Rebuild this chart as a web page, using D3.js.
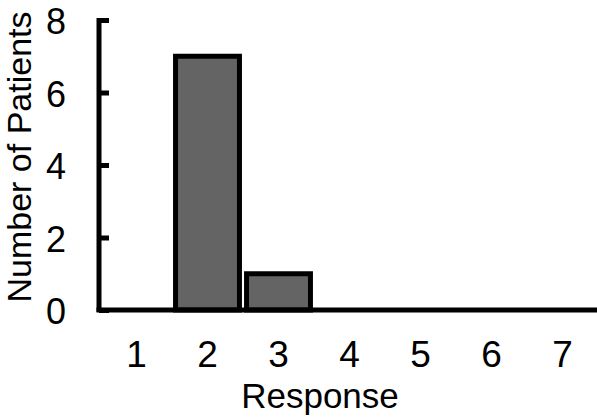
<!DOCTYPE html>
<html>
<head>
<meta charset="utf-8">
<script src="https://cdn.jsdelivr.net/npm/d3@7"></script>
<style>
  body { margin: 0; background: #fff; }
  text { font-family: "Liberation Sans", Arial, sans-serif; fill: #000; }
</style>
</head>
<body>
<div id="chart"></div>
<script>
// responses on the 1-7 scale and how many patients picked each
var responses = ["1", "2", "3", "4", "5", "6", "7"];
var patients = [0, 7, 1, 0, 0, 0, 0];
var yTicks = [0, 2, 4, 6, 8];

var W = 597, H = 418;

var svg = d3.select('#chart')
	.append('svg')
		.attr('width', W)
		.attr('height', H);

var x = d3.scaleBand()
	.domain(responses)
	.range([101, 598])
	.paddingInner(0.1)
	.paddingOuter(0.05);

var y = d3.scaleLinear()
	.domain([0, 8])
	.range([310, 20]);

// bars
svg.selectAll('rect.bar')
	.data(responses.map((r, i) => ({ r: r, n: patients[i] })).filter(d => d.n > 0))
	.enter().append('rect')
		.attr('class', 'bar')
		.attr('x', d => x(d.r))
		.attr('y', d => y(d.n))
		.attr('width', x.bandwidth())
		.attr('height', d => y(0) - y(d.n))
		.attr('fill', '#646464')
		.attr('stroke', '#000')
		.attr('stroke-width', 5);

// y axis, ticks pointing inward
var yAxis = d3.axisLeft(y)
	.tickValues(yTicks)
	.tickSizeInner(-10)
	.tickSizeOuter(0)
	.tickPadding(33);

var gy = svg.append('g')
	.attr('transform', 'translate(99,0)')
	.call(yAxis);
gy.selectAll('path, line').attr('stroke', '#000').attr('stroke-width', 5);
gy.selectAll('text').style('font-size', '36px').attr('fill', '#000').attr('dy', '0.38em');
gy.select('.domain').attr('d', 'M0,' + (y(8) - 2) + 'V' + (y(0) + 2));

// x axis, labels only, line runs to the edge
var xAxis = d3.axisBottom(x)
	.tickSize(0)
	.tickPadding(31);

var gx = svg.append('g')
	.attr('transform', 'translate(0,310)')
	.call(xAxis);
gx.select('.domain').attr('d', 'M96.5,0H' + W).attr('stroke', '#000').attr('stroke-width', 5);
gx.selectAll('text').style('font-size', '37px').attr('fill', '#000');

// titles
svg.append('text')
	.attr('x', 320)
	.attr('y', 408)
	.attr('text-anchor', 'middle')
	.style('font-size', '35px')
	.text('Response');

svg.append('text')
	.attr('transform', 'translate(31,157) rotate(-90)')
	.attr('text-anchor', 'middle')
	.style('font-size', '34px')
	.text('Number of Patients');
</script>
</body>
</html>
